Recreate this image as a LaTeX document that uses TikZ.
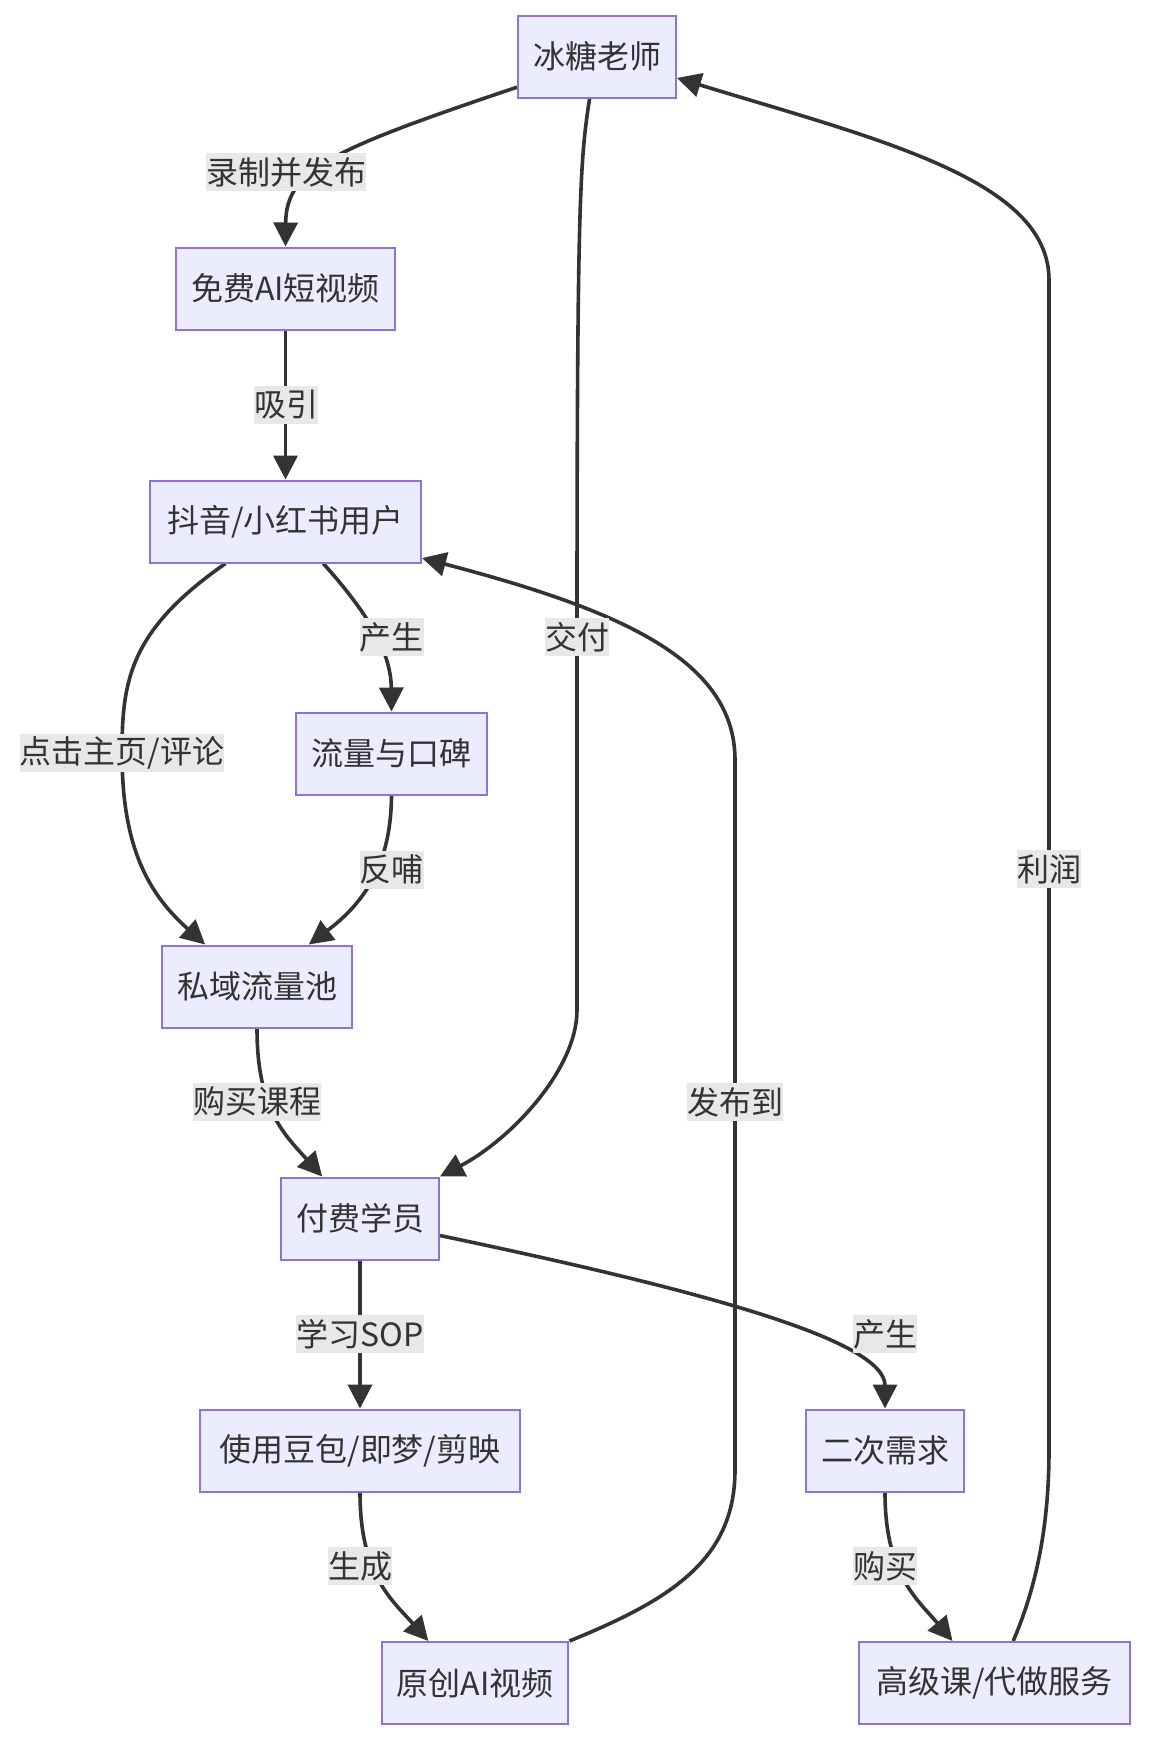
\documentclass[tikz,border=0pt]{standalone}
\usepackage{fontspec}
\newfontfamily\cjk{Noto Sans CJK SC}
\usetikzlibrary{arrows.meta}

\definecolor{nodefill}{HTML}{ECECFF}
\definecolor{nodeline}{HTML}{9370DB}
\definecolor{ink}{HTML}{333333}
\definecolor{lblfill}{HTML}{E8E8E8}

\pgfdeclarelayer{edges}
\pgfsetlayers{edges,main}

\begin{document}
\begin{tikzpicture}[x=0.5pt, y=-0.5pt,
        box/.style={draw=nodeline, fill=nodefill, line width=1pt, text=ink,
            font=\cjk\fontsize{16}{19}\selectfont, minimum height=41pt, inner xsep=7.5pt},
        lbl/.style={fill=lblfill, text=ink, font=\cjk\fontsize{16}{19}\selectfont,
            inner xsep=0pt, inner ysep=0pt, minimum height=19pt},
        flow/.style={draw=ink, line width=1.8pt, -{Triangle[length=12pt,width=12pt]}}]
            \useasboundingbox (0,0) rectangle (1148,1742);

            \node[box, minimum width=79pt] (teacher) at (597,56.5) {冰糖老师};
            \node[box, minimum width=109.5pt] (freevid) at (285.5,288.5) {免费AI短视频};
            \node[box, minimum width=135.5pt] (users) at (285.5,521.5) {抖音/小红书用户};
            \node[box, minimum width=95.5pt] (buzz) at (391.5,753.5) {流量与口碑};
            \node[box, minimum width=95pt] (pool) at (257,986.5) {私域流量池};
            \node[box, minimum width=79pt] (student) at (360,1218.5) {付费学员};
            \node[box, minimum width=160pt] (tools) at (360,1450.5) {使用豆包/即梦/剪映};
            \node[box, minimum width=79pt] (demand) at (885,1450.5) {二次需求};
            \node[box, minimum width=93pt] (origvid) at (475,1683) {原创AI视频};
            \node[box, minimum width=135.5pt] (premium) at (994.5,1683) {高级课/代做服务};

            \node[lbl] (l1) at (286,172) {录制并发布};
            \node[lbl] (l2) at (286,405) {吸引};
            \node[lbl] (l3) at (391.5,637) {产生};
            \node[lbl] (l4) at (122,753) {点击主页/评论};
            \node[lbl] (l5) at (391.5,869.5) {反哺};
            \node[lbl] (l6) at (257,1101.5) {购买课程};
            \node[lbl] (l7) at (577,637) {交付};
            \node[lbl] (l8) at (360,1334) {学习SOP};
            \node[lbl] (l9) at (885,1334) {产生};
            \node[lbl] (l10) at (360,1566) {生成};
            \node[lbl] (l11) at (735,1102) {发布到};
            \node[lbl] (l12) at (885,1566) {购买};
            \node[lbl] (l13) at (1049,869) {利润};

            \begin{pgfonlayer}{edges}
            \draw[flow] (teacher.201) .. controls (330,150) and (286,170) .. (freevid.north);
            \draw[flow] (freevid) -- (users);
            \draw[flow] (users.-48) .. controls (365,610) and (391,650) .. (buzz.north);
            \draw[flow] (users.215) .. controls (130,630) and (122,680) .. (l4.center)
                .. controls (122,850) and (150,895) .. (pool.141.5);
            \draw[flow] (buzz.south) .. controls (391,860) and (368,900) .. (pool.39);
            \draw[flow] (pool.south) .. controls (257,1110) and (285,1135) .. (student.132);
            \draw[flow] (teacher.-100) .. controls (580,160) and (577,200) .. (l7.center)
                -- (577,1010) .. controls (577,1070) and (510,1140) .. (student.north east);
            \draw[flow] (student) -- (tools);
            \draw[flow] (student.-12.5) .. controls (700,1290) and (885,1340) .. (demand.north);
            \draw[flow] (tools.south) .. controls (360,1575) and (392,1600) .. (origvid.138);
            \draw[flow] (origvid.north east) .. controls (670,1600) and (735,1560) .. (735,1470)
                -- (l11.center) -- (735,760) .. controls (735,660) and (620,610) .. (users.-15);
            \draw[flow] (demand.south) .. controls (885,1575) and (918,1600) .. (premium.135);
            \draw[flow] (premium.66) .. controls (1035,1590) and (1049,1530) .. (1049,1450)
                -- (l13.center) -- (1049,280) .. controls (1049,180) and (880,140) .. (teacher.-15);
            \end{pgfonlayer}
        \end{tikzpicture}
\end{document}
